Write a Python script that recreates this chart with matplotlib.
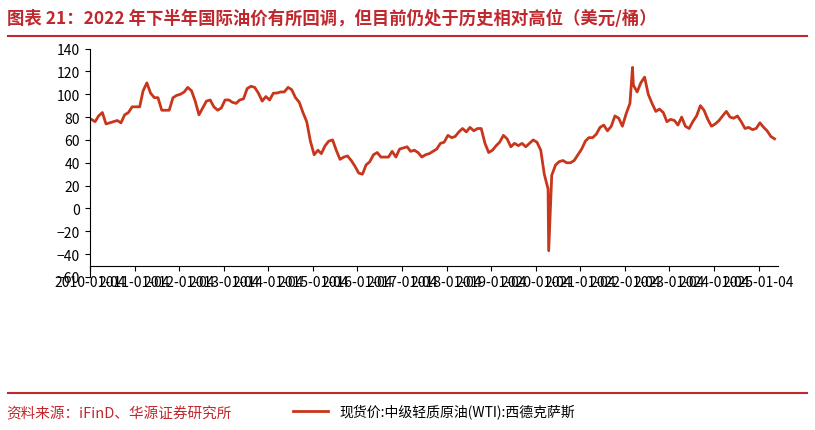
import matplotlib
matplotlib.use("Agg")
import matplotlib.pyplot as plt
import numpy as np
import pandas as pd

plt.rcParams['font.family'] = ['Noto Sans CJK SC', 'DejaVu Sans']

# monthly WTI spot (USD/bbl), plus two daily extremes
wti = [
    78, 76, 81, 84, 74, 75, 76, 77, 75, 82, 84, 89,
    89, 89, 103, 110, 101, 97, 97, 86, 86, 86, 97, 99,
    100, 102, 106, 103, 94, 82, 88, 94, 95, 89, 86, 88,
    95, 95, 93, 92, 95, 96, 105, 107, 106, 101, 94, 98,
    95, 101, 101, 102, 102, 106, 104, 97, 93, 84, 76, 59,
    47, 51, 48, 55, 59, 60, 51, 43, 45, 46, 42, 37,
    31, 30, 38, 41, 47, 49, 45, 45, 45, 50, 45, 52,
    53, 54, 50, 51, 49, 45, 47, 48, 50, 52, 57, 58,
    64, 62, 63, 67, 70, 67, 71, 68, 70, 70, 57, 49,
    51, 55, 58, 64, 61, 54, 57, 55, 57, 54, 57, 60,
    58, 51, 30, 17, 29, 38, 41, 42, 40, 40, 42, 47,
    52, 59, 62, 62, 65, 71, 73, 68, 72, 81, 79, 72,
    83, 92, 108, 102, 110, 115, 100, 92, 85, 87, 84, 76,
    78, 77, 73, 80, 72, 70, 76, 81, 90, 86, 78, 72,
    74, 77, 81, 85, 80, 79, 81, 76, 70, 71, 69, 70,
    75, 71, 68, 63, 61,
]
months = pd.date_range("2010-01-01", periods=len(wti), freq="MS") + pd.Timedelta(days=14)
extra_dates = ["2020-04-20", "2022-03-08"]
extra_vals = [-37, 123.5]

s = pd.Series(wti, index=months)
s = pd.concat([s, pd.Series(extra_vals, index=pd.to_datetime(extra_dates))]).sort_index()

fig = plt.figure(figsize=(8.15, 4.31), dpi=100)
red = "#c0282d"
fig.text(0.008, 0.955, "图表 21：2022 年下半年国际油价有所回调，但目前仍处于历史相对高位（美元/桶）",
         color=red, fontsize=12.5, fontweight="bold", va="center")
fig.add_artist(plt.Line2D([0.01, 0.99], [0.915, 0.915], color=red, lw=1.5))
fig.add_artist(plt.Line2D([0.01, 0.99], [0.085, 0.085], color=red, lw=1.5))
fig.text(0.008, 0.04, "资料来源：iFinD、华源证券研究所", color=red, fontsize=10.5, va="center")

ax = fig.add_axes([0.11, 0.355, 0.845, 0.53])
ax.plot(s.index, s.values, color="#c8361b", lw=2, label="现货价:中级轻质原油(WTI):西德克萨斯")
ax.set_ylim(-60, 140)
ax.set_yticks(range(-60, 141, 20))
ticks = pd.date_range("2010-01-01", "2025-01-01", freq="12MS") + pd.Timedelta(days=3)
ax.set_xticks(ticks)
ax.set_xticklabels([t.strftime("%Y-%m-%d") for t in ticks], rotation=45, ha="right",
                   rotation_mode="anchor", fontsize=10)
ax.set_xlim(pd.Timestamp("2010-01-01"), pd.Timestamp("2025-06-15"))
ax.tick_params(axis="y", labelsize=10, direction="out")
for sp in ["top", "right"]:
    ax.spines[sp].set_visible(False)
ax.spines["bottom"].set_position(("data", -50))
ax.legend(loc="upper center", bbox_to_anchor=(0.5, -0.5), frameon=False, fontsize=10,
          handlelength=2.5)

plt.savefig("out.png", dpi=100)
